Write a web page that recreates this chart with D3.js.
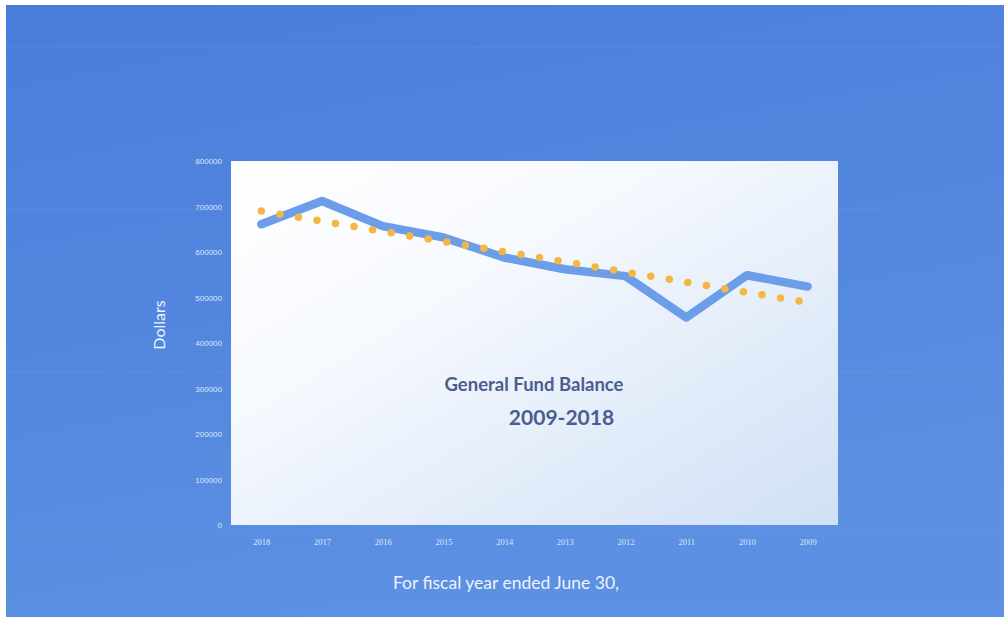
<!DOCTYPE html>
<html>
<head>
<meta charset="utf-8">
<script src="https://cdn.jsdelivr.net/npm/d3@7"></script>
<style>
html,body{margin:0;padding:0;background:#ffffff;}
svg{display:block;}
</style>
</head>
<body>
<svg id="chart" width="1004" height="617"></svg>
<script>
// ---- data ----
const years = ["2018","2017","2016","2015","2014","2013","2012","2011","2010","2009"];
const balances = [661000, 712000, 657000, 632000, 588000, 562000, 547000, 456000, 549000, 524000];
const trendEnds = [690000, 489000]; // linear trendline at first and last year
const yTicks = [0, 100000, 200000, 300000, 400000, 500000, 600000, 700000, 800000];
const titleLines = ["General Fund Balance", "2009-2018"];
const yTitle = "Dollars";
const xTitle = "For fiscal year ended June 30,";

// ---- layout ----
const W = 1004, H = 617;
const plot = {left: 231, top: 161, right: 838, bottom: 525};

const svg = d3.select("#chart");
const defs = svg.append("defs");

const bgGrad = defs.append("linearGradient").attr("id","bg").attr("x1","0").attr("y1","0").attr("x2","0.3").attr("y2","1");
bgGrad.append("stop").attr("offset","0").attr("stop-color","#4a7ddb");
bgGrad.append("stop").attr("offset","1").attr("stop-color","#5b90e2");

const plotGrad = defs.append("linearGradient").attr("id","pg").attr("x1","0").attr("y1","0").attr("x2","1").attr("y2","1");
plotGrad.append("stop").attr("offset","0").attr("stop-color","#ffffff");
plotGrad.append("stop").attr("offset","0.35").attr("stop-color","#f6f9fe");
plotGrad.append("stop").attr("offset","1").attr("stop-color","#d0e0f5");

// white border + blue background
svg.append("rect").attr("x",0).attr("y",0).attr("width",W).attr("height",H).attr("fill","#ffffff");
svg.append("rect").attr("x",6).attr("y",5).attr("width",W-6).attr("height",H-5).attr("fill","url(#bg)");

// faint scan lines (photo artifact)
[47, 210, 372, 453, 533, 608].forEach(yy => {
  svg.append("line").attr("x1",6).attr("x2",W).attr("y1",yy).attr("y2",yy)
    .attr("stroke","#9dbcf0").attr("stroke-opacity",0.15).attr("stroke-width",1);
});

// plot area
svg.append("rect").attr("x",plot.left).attr("y",plot.top)
  .attr("width",plot.right-plot.left).attr("height",plot.bottom-plot.top)
  .attr("fill","url(#pg)");

// scales
const x = d3.scalePoint().domain(years).range([plot.left, plot.right]).padding(0.5);
const y = d3.scaleLinear().domain([0, 800000]).range([plot.bottom, plot.top]);

// y axis
const yAxis = d3.axisLeft(y).tickValues(yTicks).tickFormat(d3.format("d")).tickSize(0).tickPadding(9);
const gy = svg.append("g").attr("transform",`translate(${plot.left},0)`).call(yAxis);
gy.select(".domain").remove();
gy.selectAll("text").attr("fill","#dce7fa").attr("font-family","Liberation Sans, Arial, sans-serif").attr("font-size",8);

// x axis
const xAxis = d3.axisBottom(x).tickSize(0).tickPadding(14);
const gx = svg.append("g").attr("transform",`translate(0,${plot.bottom})`).call(xAxis);
gx.select(".domain").remove();
gx.selectAll("text").attr("fill","#dce7fa").attr("font-family","Liberation Serif, serif").attr("font-size",8.5);

// series line
const line = d3.line().x((d,i)=>x(years[i])).y(d=>y(d));
svg.append("path").datum(balances).attr("d",line)
  .attr("fill","none").attr("stroke","#6b9de9").attr("stroke-width",8.5)
  .attr("stroke-linejoin","round").attr("stroke-linecap","round");

// trendline (dotted)
const trendData = [{k:years[0], v:trendEnds[0]}, {k:years[years.length-1], v:trendEnds[1]}];
svg.append("path").datum(trendData)
  .attr("d", d3.line().x(d=>x(d.k)).y(d=>y(d.v)))
  .attr("fill","none").attr("stroke","#f6b644").attr("stroke-width",7.5)
  .attr("stroke-linecap","round").attr("stroke-dasharray","0 18.8");

// chart title inside plot
const tfont = "Lato, 'Open Sans', sans-serif";
svg.append("text").attr("x",534).attr("y",391).attr("text-anchor","middle")
  .attr("font-family",tfont).attr("font-weight",700).attr("font-size",18.5)
  .attr("fill","#4d5c8e").text(titleLines[0]);
svg.append("text").attr("x",561.5).attr("y",425).attr("text-anchor","middle")
  .attr("font-family",tfont).attr("font-weight",700).attr("font-size",21)
  .attr("fill","#4d5c8e").text(titleLines[1]);

// axis titles
svg.append("text").attr("transform","translate(165,325) rotate(-90)").attr("text-anchor","middle")
  .attr("font-family","Lato, 'Open Sans', sans-serif").attr("font-size",16)
  .attr("fill","#eef3fc").text(yTitle);
svg.append("text").attr("x",506).attr("y",589).attr("text-anchor","middle")
  .attr("font-family","Lato, 'Open Sans', sans-serif").attr("font-size",17.5)
  .attr("fill","#eef3fc").text(xTitle);
</script>
</body>
</html>
